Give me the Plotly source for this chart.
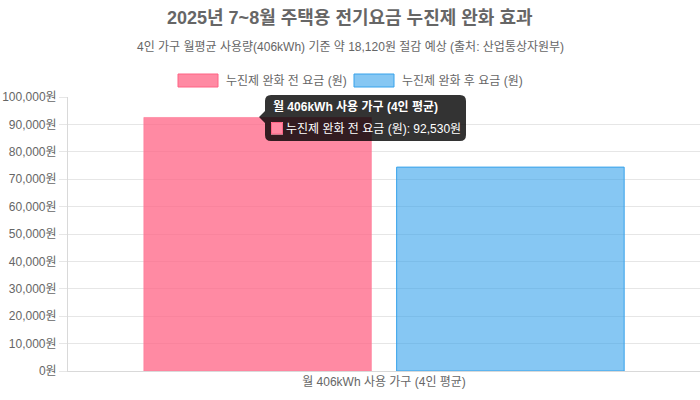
import re
import plotly.graph_objects as go

# данные графика
categories = ["월 406kWh 사용 가구 (4인 평균)"]
series_names = ["누진제 완화 전 요금 (원)", "누진제 완화 후 요금 (원)"]
before_values = [92530]
after_values = [74410]
fill_colors = ["rgba(255,99,132,0.75)", "rgba(54,162,235,0.6)"]
line_colors = ["rgba(255,99,132,1)", "rgba(54,162,235,1)"]
bar_line_colors = ["rgba(255,120,150,0.6)", "rgba(54,162,235,1)"]  # розовый столбец в состоянии hover

FONT = "Liberation Sans, Arial, Noto Sans CJK KR, sans-serif"
W, H = 700, 400
L, R, T, B = 68, 0, 97, 29


def px(x):  # пиксели -> paper x
    return (x - L) / (W - L - R)


def py(y):  # пиксели -> paper y
    return (H - B - y) / (H - T - B)


fig = go.Figure()
for name, vals, fc, lc in zip(series_names, [before_values, after_values], fill_colors, bar_line_colors):
    fig.add_trace(go.Bar(x=categories, y=vals, name=name, marker=dict(color=fc, line=dict(color=lc, width=1)),
                         showlegend=False))

shapes = []
annotations = []

# легенда (коробки 40x12 как в Chart.js)
legend_pos = [178, 354]
for name, x0, fc, lc in zip(series_names, legend_pos, fill_colors, line_colors):
    shapes.append(dict(type="rect", xref="paper", yref="paper", x0=px(x0), x1=px(x0 + 40), y0=py(87), y1=py(74),
                       fillcolor=fc, line=dict(color=lc, width=1)))
    annotations.append(dict(xref="paper", yref="paper", x=px(x0 + 46), y=py(80.5), text=name, showarrow=False,
                            xanchor="left", yanchor="middle", font=dict(size=12, color="#666")))

# подсказка (tooltip) над первым столбцом
tip = "rgba(0,0,0,0.8)"
bx0, bx1, by0, by1, rr = 265, 466, 95, 141, 6
path = (f"M {bx0 + rr},{by0} L {bx1 - rr},{by0} Q {bx1},{by0} {bx1},{by0 + rr} "
        f"L {bx1},{by1 - rr} Q {bx1},{by1} {bx1 - rr},{by1} L {bx0 + rr},{by1} Q {bx0},{by1} {bx0},{by1 - rr} "
        f"L {bx0},{123} L {259},{117} L {bx0},{111} L {bx0},{by0 + rr} Q {bx0},{by0} {bx0 + rr},{by0} Z")


def conv(m):
    return f"{px(float(m.group(1)))},{py(float(m.group(2)))}"


path = re.sub(r"([\d.]+),([\d.]+)", conv, path)
shapes.append(dict(type="path", xref="paper", yref="paper", path=path, fillcolor=tip, line=dict(width=0)))
shapes.append(dict(type="rect", xref="paper", yref="paper", x0=px(271), x1=px(283), y0=py(134.5), y1=py(122),
                   fillcolor="white", line=dict(width=0)))
shapes.append(dict(type="rect", xref="paper", yref="paper", x0=px(271.5), x1=px(282.5), y0=py(134), y1=py(122.5),
                   fillcolor=fill_colors[0], line=dict(color=line_colors[0], width=1)))
annotations.append(dict(xref="paper", yref="paper", x=px(271), y=py(107), text="<b>" + categories[0] + "</b>",
                        showarrow=False, xanchor="left", yanchor="middle", font=dict(size=12, color="white")))
annotations.append(dict(xref="paper", yref="paper", x=px(284), y=py(128.5),
                        text=f"{series_names[0]}: {before_values[0]:,}원",
                        showarrow=False, xanchor="left", yanchor="middle", font=dict(size=12, color="white")))

# заголовок и подзаголовок
annotations.append(dict(xref="paper", yref="paper", x=px(350), y=py(18),
                        text="<b>2025년 7~8월 주택용 전기요금 누진제 완화 효과</b>", showarrow=False,
                        xanchor="center", yanchor="middle", font=dict(size=18, color="#666")))
annotations.append(dict(xref="paper", yref="paper", x=px(350), y=py(47),
                        text="4인 가구 월평균 사용량(406kWh) 기준 약 18,120원 절감 예상 (출처: 산업통상자원부)",
                        showarrow=False, xanchor="center", yanchor="middle", font=dict(size=12, color="#666")))

fig.update_layout(
    width=W, height=H,
    margin=dict(l=L, r=R, t=T, b=B),
    paper_bgcolor="white", plot_bgcolor="white",
    font=dict(family=FONT, size=12, color="#666"),
    barmode="group", bargap=0.2, bargroupgap=0.1,
    shapes=shapes, annotations=annotations,
    hovermode=False,
)
fig.update_xaxes(showgrid=False, showline=True, linecolor="#d9d9d9", linewidth=1, automargin=False,
                 ticks="", tickfont=dict(size=12, color="#666"), fixedrange=True)
fig.update_yaxes(range=[0, 100000], dtick=10000, tickformat=",", ticksuffix="원", automargin=False,
                 showgrid=True, gridcolor="#e6e6e6", gridwidth=1, zeroline=False,
                 showline=True, linecolor="#d9d9d9", linewidth=1,
                 ticks="outside", ticklen=8, tickcolor="#e6e6e6",
                 tickfont=dict(size=12, color="#666"), fixedrange=True)

# убираем отступ body, чтобы график начинался с (0,0)
fig.write_html("out.html", config={"displayModeBar": False},
               post_script="document.body.style.margin='0';")
